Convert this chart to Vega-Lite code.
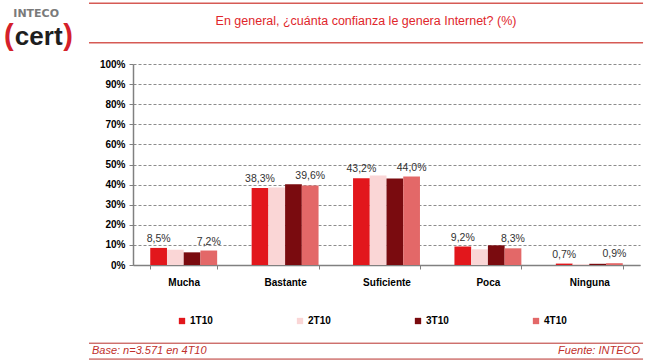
{
  "$schema": "https://vega.github.io/schema/vega-lite/v6.json",
  "width": 507,
  "height": 201,
  "autosize": {"type": "none"},
  "padding": {"left": 133, "top": 64, "right": 10, "bottom": 95},
  "background": "white",
  "config": {
    "font": "Liberation Sans",
    "view": {"stroke": null}
  },
  "datasets": {
    "survey": [
      {"nivel": "Mucha", "periodo": "1T10", "valor": 8.5, "etiqueta": "8,5%"},
      {"nivel": "Mucha", "periodo": "2T10", "valor": 7.6, "etiqueta": ""},
      {"nivel": "Mucha", "periodo": "3T10", "valor": 6.3, "etiqueta": ""},
      {"nivel": "Mucha", "periodo": "4T10", "valor": 7.2, "etiqueta": "7,2%"},
      {"nivel": "Bastante", "periodo": "1T10", "valor": 38.3, "etiqueta": "38,3%"},
      {"nivel": "Bastante", "periodo": "2T10", "valor": 38.6, "etiqueta": ""},
      {"nivel": "Bastante", "periodo": "3T10", "valor": 40.2, "etiqueta": ""},
      {"nivel": "Bastante", "periodo": "4T10", "valor": 39.6, "etiqueta": "39,6%"},
      {"nivel": "Suficiente", "periodo": "1T10", "valor": 43.2, "etiqueta": "43,2%"},
      {"nivel": "Suficiente", "periodo": "2T10", "valor": 44.5, "etiqueta": ""},
      {"nivel": "Suficiente", "periodo": "3T10", "valor": 43.0, "etiqueta": ""},
      {"nivel": "Suficiente", "periodo": "4T10", "valor": 44.0, "etiqueta": "44,0%"},
      {"nivel": "Poca", "periodo": "1T10", "valor": 9.2, "etiqueta": "9,2%"},
      {"nivel": "Poca", "periodo": "2T10", "valor": 7.8, "etiqueta": ""},
      {"nivel": "Poca", "periodo": "3T10", "valor": 9.8, "etiqueta": ""},
      {"nivel": "Poca", "periodo": "4T10", "valor": 8.3, "etiqueta": "8,3%"},
      {"nivel": "Ninguna", "periodo": "1T10", "valor": 0.7, "etiqueta": "0,7%"},
      {"nivel": "Ninguna", "periodo": "2T10", "valor": 0.4, "etiqueta": ""},
      {"nivel": "Ninguna", "periodo": "3T10", "valor": 0.6, "etiqueta": ""},
      {"nivel": "Ninguna", "periodo": "4T10", "valor": 0.9, "etiqueta": "0,9%"}
    ]
  },
  "layer": [
    {
      "data": {"name": "survey"},
      "encoding": {
        "x": {
          "field": "nivel", "type": "nominal",
          "sort": ["Mucha", "Bastante", "Suficiente", "Poca", "Ninguna"],
          "scale": {"paddingInner": 0.34, "paddingOuter": 0.17},
          "axis": {
            "title": null, "labelAngle": 0, "labelFont": "Liberation Sans", "labelFontWeight": "bold",
            "labelFontSize": 10, "labelColor": "#000", "labelPadding": 8,
            "tickBand": "extent", "tickSize": 4, "tickColor": "#808080",
            "domainColor": "#808080", "domainWidth": 1.5
          }
        },
        "xOffset": {"field": "periodo", "type": "nominal", "sort": ["1T10", "2T10", "3T10", "4T10"], "scale": {"paddingInner": 0, "paddingOuter": 0}},
        "y": {
          "field": "valor", "type": "quantitative",
          "scale": {"domain": [0, 100], "nice": false},
          "axis": {
            "title": null, "values": [0, 10, 20, 30, 40, 50, 60, 70, 80, 90, 100], "labelOverlap": false,
            "labelExpr": "datum.value + '%'", "labelFont": "Liberation Sans", "labelFontWeight": "bold",
            "labelFontSize": 10, "labelColor": "#000", "labelPadding": 4,
            "tickSize": 4, "tickColor": "#808080", "domainColor": "#808080", "domainWidth": 1.5,
            "grid": true, "gridDash": [3, 2], "gridColor": "#8c8c8c", "gridWidth": 1
          }
        }
      },
      "layer": [
        {
          "mark": {"type": "bar"},
          "encoding": {
            "color": {
              "field": "periodo", "type": "nominal",
              "scale": {"domain": ["1T10", "2T10", "3T10", "4T10"], "range": ["#E2171C", "#FAD6D6", "#7A0B0F", "#E36868"]},
              "legend": {
                "title": null, "orient": "none", "direction": "horizontal", "legendX": 44, "legendY": 252,
                "symbolType": "square", "symbolSize": 40, "symbolStrokeWidth": 0,
                "labelFont": "Liberation Sans", "labelFontWeight": "bold", "labelFontSize": 10, "labelColor": "#000",
                "labelOffset": 3, "columnPadding": 82
              }
            }
          }
        },
        {
          "transform": [{"filter": "datum.etiqueta != ''"}],
          "mark": {"type": "text", "baseline": "bottom", "dy": -4, "fontSize": 10.5, "color": "#333", "font": "Liberation Sans"},
          "encoding": {"text": {"field": "etiqueta"}}
        }
      ]
    },
    {
      "data": {"values": [{}]},
      "encoding": {},
      "layer": [
        {
          "mark": {"type": "rule", "color": "#D65A55", "strokeWidth": 1.5},
          "encoding": {
            "x": {"datum": -8.68, "type": "quantitative", "scale": {"domain": [0, 100]}, "axis": null},
            "x2": {"datum": 100.6},
            "y": {"datum": 130.2, "type": "quantitative", "axis": null}
          }
        },
        {
          "mark": {"type": "rule", "color": "#D65A55", "strokeWidth": 1.5},
          "encoding": {
            "x": {"datum": -8.68, "type": "quantitative", "axis": null},
            "x2": {"datum": 100.6},
            "y": {"datum": 110.6, "type": "quantitative", "axis": null}
          }
        },
        {
          "mark": {"type": "rule", "color": "#B8302C", "strokeWidth": 1},
          "encoding": {
            "x": {"datum": -8.68, "type": "quantitative", "axis": null},
            "x2": {"datum": 100.6},
            "y": {"datum": -38.9, "type": "quantitative", "axis": null}
          }
        },
        {
          "mark": {"type": "rule", "color": "#B8302C", "strokeWidth": 1},
          "encoding": {
            "x": {"datum": -8.68, "type": "quantitative", "axis": null},
            "x2": {"datum": 100.6},
            "y": {"datum": -46.8, "type": "quantitative", "axis": null}
          }
        },
        {
          "mark": {"type": "text", "font": "Liberation Sans", "fontSize": 12.5, "color": "#E0262B", "align": "center", "baseline": "middle"},
          "encoding": {
            "x": {"datum": 45.96, "type": "quantitative", "axis": null},
            "y": {"datum": 121.4, "type": "quantitative", "axis": null},
            "text": {"value": "En general, ¿cuánta confianza le genera Internet? (%)"}
          }
        },
        {
          "mark": {"type": "text", "font": "Liberation Sans", "fontSize": 11, "fontStyle": "italic", "color": "#C0302C", "align": "left", "baseline": "middle"},
          "encoding": {
            "x": {"datum": -8.1, "type": "quantitative", "axis": null},
            "y": {"datum": -42.8, "type": "quantitative", "axis": null},
            "text": {"value": "Base: n=3.571 en 4T10"}
          }
        },
        {
          "mark": {"type": "text", "font": "Liberation Sans", "fontSize": 11, "fontStyle": "italic", "color": "#C0302C", "align": "right", "baseline": "middle"},
          "encoding": {
            "x": {"datum": 100.0, "type": "quantitative", "axis": null},
            "y": {"datum": -42.8, "type": "quantitative", "axis": null},
            "text": {"value": "Fuente: INTECO"}
          }
        },
        {
          "mark": {"type": "text", "font": "DejaVu Sans", "fontSize": 11, "fontWeight": "bold", "color": "#7a7a7a", "align": "center", "baseline": "middle"},
          "encoding": {
            "x": {"datum": -19.1, "type": "quantitative", "axis": null},
            "y": {"datum": 124.9, "type": "quantitative", "axis": null},
            "text": {"value": "INTECO"}
          }
        },
        {
          "mark": {"type": "text", "font": "Liberation Sans", "fontSize": 26, "fontWeight": "bold", "color": "#1e1e1e", "align": "center", "baseline": "middle"},
          "encoding": {
            "x": {"datum": -18.6, "type": "quantitative", "axis": null},
            "y": {"datum": 113.4, "type": "quantitative", "axis": null},
            "text": {"value": "cert"}
          }
        },
        {
          "mark": {"type": "text", "font": "Liberation Sans", "fontSize": 29, "fontWeight": "bold", "color": "#D4202A", "align": "center", "baseline": "middle"},
          "encoding": {
            "x": {"datum": -24.5, "type": "quantitative", "axis": null},
            "y": {"datum": 114.0, "type": "quantitative", "axis": null},
            "text": {"value": "("}
          }
        },
        {
          "mark": {"type": "text", "font": "Liberation Sans", "fontSize": 29, "fontWeight": "bold", "color": "#D4202A", "align": "center", "baseline": "middle"},
          "encoding": {
            "x": {"datum": -12.8, "type": "quantitative", "axis": null},
            "y": {"datum": 114.0, "type": "quantitative", "axis": null},
            "text": {"value": ")"}
          }
        }
      ]
    }
  ],
  "resolve": {"scale": {"x": "independent"}, "axis": {"y": "independent"}}
}
